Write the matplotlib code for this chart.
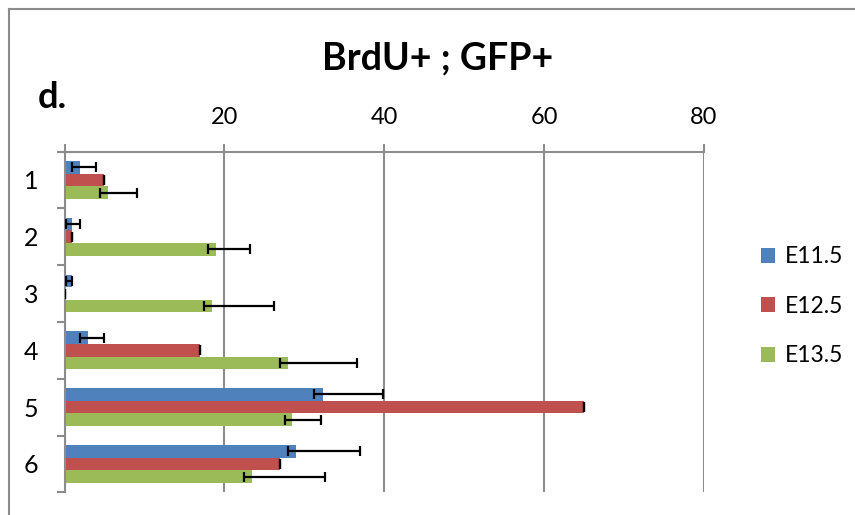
import matplotlib
matplotlib.use("Agg")
import matplotlib.pyplot as plt
import numpy as np
from matplotlib.lines import Line2D
from matplotlib.patches import Patch

categories = ["1", "2", "3", "4", "5", "6"]
series_names = ["E11.5", "E12.5", "E13.5"]

e11_vals = [1.95, 0.95, 1.0, 3.0, 32.3, 29.0]
e11_err_lo = [1.05, 0.75, 0.85, 1.05, 1.05, 1.0]
e11_err_hi = [2.05, 1.05, 0.0, 1.95, 7.5, 7.95]

e12_vals = [5.0, 1.0, 0.0, 17.0, 65.0, 27.0]
e12_err_lo = [0, 0, 0, 0, 0, 0]
e12_err_hi = [0, 0, 0, 0, 0, 0]

e13_vals = [5.5, 19.0, 18.45, 28.0, 28.5, 23.5]
e13_err_lo = [1.0, 1.0, 1.0, 1.0, 0.95, 1.0]
e13_err_hi = [3.55, 4.25, 7.8, 8.55, 3.55, 9.15]

x_ticks = [0, 20, 40, 60, 80]
x_tick_labels = ["", "20", "40", "60", "80"]

colors = ["#4F81BD", "#C0504D", "#9BBB59"]
grid_col = "#8C8C8C"
FONT = "Lato"

W, H = 855, 515
fig = plt.figure(figsize=(W / 100, H / 100), dpi=100)

# chart border (left and top edges visible)
fig.add_artist(Line2D([8.5 / W, 8.5 / W], [0, 1 - 8.5 / H], transform=fig.transFigure,
                      color=grid_col, lw=1.5))
fig.add_artist(Line2D([8.5 / W, 1], [1 - 8.5 / H, 1 - 8.5 / H], transform=fig.transFigure,
                      color=grid_col, lw=1.5))

left, right = 64.5 / W, 704 / W
top, bottom = 1 - 151.5 / H, 1 - 492.3 / H
ax = fig.add_axes([left, bottom, right - left, top - bottom])

y = np.arange(len(categories))
h = 1 / 4.5
series = [
    (e11_vals, e11_err_lo, e11_err_hi),
    (e12_vals, e12_err_lo, e12_err_hi),
    (e13_vals, e13_err_lo, e13_err_hi),
]
for k, (vals, lo, hi) in enumerate(series):
    pos = y + (k - 1) * h
    ax.barh(pos, vals, height=h, color=colors[k], zorder=2, label=series_names[k])
    ax.errorbar(vals, pos, xerr=[lo, hi], fmt="none", ecolor="black",
                elinewidth=1.6, capsize=3.8, capthick=1.6, zorder=3)

ax.set_xlim(0, 80)
ax.set_ylim(len(categories) - 0.5, -0.5)

ax.xaxis.tick_top()
ax.set_xticks(x_ticks)
ax.set_xticklabels(x_tick_labels, fontfamily=FONT, fontsize=17)
ax.tick_params(axis="x", which="major", direction="out", length=6, width=1.5,
               color=grid_col, pad=11)
ax.xaxis.grid(True, color=grid_col, lw=1.5, zorder=0)
ax.set_axisbelow(True)

ax.set_yticks(y)
ax.set_yticklabels(categories, fontfamily=FONT, fontsize=18)
ax.set_yticks(np.arange(-0.5, len(categories)), minor=True)
ax.tick_params(axis="y", which="major", length=0, pad=19)
ax.tick_params(axis="y", which="minor", direction="out", length=5.5, width=1.5,
               color=grid_col)

for s in ["right", "bottom"]:
    ax.spines[s].set_visible(False)
for s in ["left", "top"]:
    ax.spines[s].set_color(grid_col)
    ax.spines[s].set_linewidth(1.5)

fig.text(438 / W, 1 - 58 / H, "BrdU+ ; GFP+", ha="center", va="center",
         fontfamily=FONT, fontweight="bold", fontsize=27)
fig.text(52 / W, 1 - 97 / H, "d.", ha="center", va="center",
         fontfamily=FONT, fontweight="bold", fontsize=26)

handles = [Patch(facecolor=c) for c in colors]
leg = fig.legend(handles, series_names, loc="upper left",
                 bbox_to_anchor=(752 / W, 1 - 237 / H), frameon=False,
                 prop={"family": FONT, "size": 16.5}, handlelength=0.62,
                 handleheight=0.62, handletextpad=0.4, labelspacing=1.25,
                 borderaxespad=0)

fig.savefig("out.png", dpi=100)
